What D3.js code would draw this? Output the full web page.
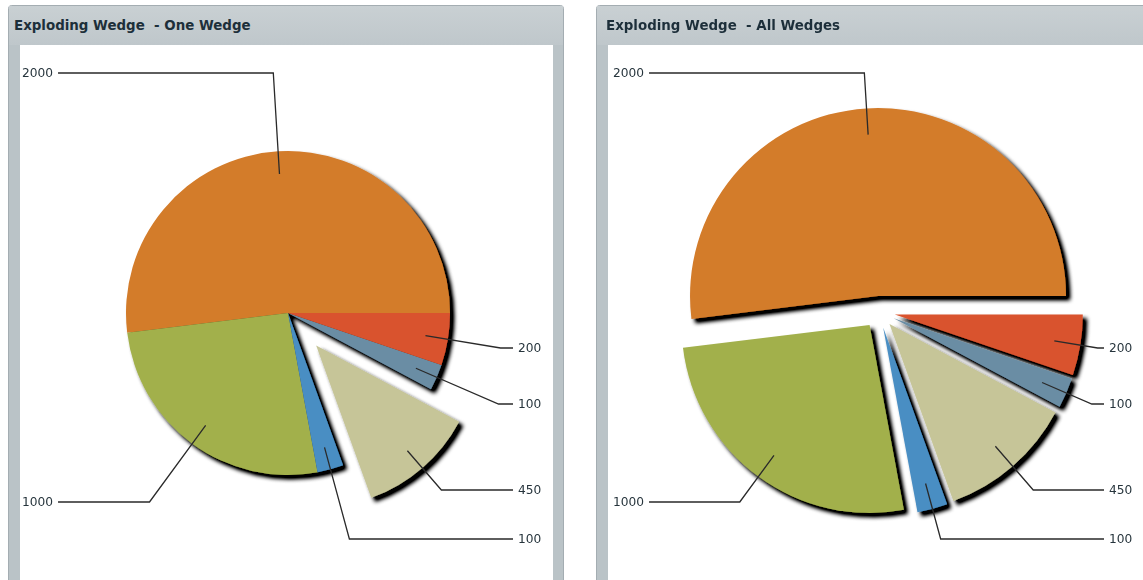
<!DOCTYPE html>
<html>
<head>
<meta charset="utf-8">
<script src="https://cdn.jsdelivr.net/npm/d3@7/dist/d3.min.js"></script>
<style>
    body {margin: 0; background: #fff;}
    .panel-frame {fill: #bac3c7; stroke: #a4adb2; stroke-width: 1;}
    .panel-body {fill: #fff;}
    .panel-title {font-family: "DejaVu Sans", Verdana, sans-serif; font-weight: bold; font-size: 13.4px; fill: #1d2f3a; white-space: pre;}
    .pie-label {font-family: "DejaVu Sans", Verdana, sans-serif; font-size: 12.2px; fill: #26343c;}
    .leader {fill: none; stroke: #2a2a2a; stroke-width: 1.3;}
</style>
</head>
<body>
<svg id="chart" width="1143" height="580"></svg>
<script>
    // data, in drawing order (counter-clockwise from 3 o'clock)
    let values = [2000, 1000, 100, 450, 100, 200];
    let labels = ["2000", "1000", "100", "450", "100", "200"];
    let colors = ["#d37b2a", "#a2b04c", "#4a8ec3", "#c6c598", "#6a8da4", "#d9532e"];
    let titles = ["Exploding Wedge  - One Wedge", "Exploding Wedge  - All Wedges"];
    let explodeOne = [0, 0, 0, 43, 0, 0];
    let explodeAll = [16, 16, 16, 16, 16, 16];

    // layout
    let labelRows = [73, 502, 539, 490, 404, 348];
    let panels = [
        {x: 8, w: 555, titleX: 14, cx: 288, cy: 313, r: 162, explode: explodeOne, leftX: 22, rightX: 518},
        {x: 596, w: 560, titleX: 606, cx: 879, cy: 312, r: 188, explode: explodeAll, leftX: 613, rightX: 1109}
    ];

    let svg = d3.select("#chart");

    let defs = svg.append("defs");
    let grad = defs.append("linearGradient")
        .attr("id", "head-grad")
        .attr("x1", 0).attr("y1", 0).attr("x2", 0).attr("y2", 1);
    grad.append("stop").attr("offset", "0%").attr("stop-color", "#c9d0d3");
    grad.append("stop").attr("offset", "100%").attr("stop-color", "#bfc7cb");

    let filter = defs.append("filter")
        .attr("id", "shadow")
        .attr("x", "-20%").attr("y", "-20%")
        .attr("width", "140%").attr("height", "140%");
    filter.append("feGaussianBlur")
        .attr("in", "SourceAlpha")
        .attr("stdDeviation", 2.2)
        .attr("result", "blur");
    filter.append("feOffset")
        .attr("in", "blur")
        .attr("dx", 4).attr("dy", 4)
        .attr("result", "off");
    filter.append("feComponentTransfer")
        .attr("in", "off")
        .attr("result", "dark")
        .append("feFuncA").attr("type", "linear").attr("slope", 1.4);
    let merge = filter.append("feMerge");
    merge.append("feMergeNode").attr("in", "dark");
    merge.append("feMergeNode").attr("in", "SourceGraphic");

    let pie = d3.pie()
        .sort(null)
        .value(function(d) { return d; })
        .startAngle(Math.PI / 2)
        .endAngle(Math.PI / 2 - 2 * Math.PI);

    panels.forEach(function(p, pi) {
        let g = svg.append("g");

        // frame + header
        g.append("rect")
            .attr("class", "panel-frame")
            .attr("x", p.x + 0.5).attr("y", 5.5)
            .attr("width", p.w).attr("height", 600)
            .attr("rx", 3);
        g.append("rect")
            .attr("x", p.x + 1).attr("y", 6)
            .attr("width", p.w - 1).attr("height", 39)
            .attr("fill", "url(#head-grad)");
        g.append("rect")
            .attr("class", "panel-body")
            .attr("x", p.x + 12).attr("y", 45)
            .attr("width", p.w - 22).attr("height", 560);
        g.append("text")
            .attr("class", "panel-title")
            .attr("x", p.titleX).attr("y", 30)
            .text(titles[pi]);

        let arc = d3.arc().innerRadius(0).outerRadius(p.r);
        let arcs = pie(values);

        arcs.forEach(function(a, i) {
            let mid = (a.startAngle + a.endAngle) / 2;
            a.dx = Math.sin(mid);
            a.dy = -Math.cos(mid);
            a.wx = p.cx + a.dx * p.explode[i];
            a.wy = p.cy + a.dy * p.explode[i];
        });

        g.append("g")
            .attr("filter", "url(#shadow)")
            .selectAll("path")
            .data(arcs)
            .enter().append("path")
            .attr("transform", function(d) { return "translate(" + d.wx + "," + d.wy + ")"; })
            .attr("d", arc)
            .style("fill", function(d, i) { return colors[i]; });

        // labels + leader lines
        arcs.forEach(function(a, i) {
            let ly = labelRows[i];
            let left = a.dx < 0;
            let txt = g.append("text")
                .attr("class", "pie-label")
                .attr("x", left ? p.leftX : p.rightX)
                .attr("y", ly)
                .attr("dy", "0.36em")
                .text(labels[i]);
            let tw = txt.node().getComputedTextLength();
            let innerX = a.wx + a.dx * p.r * 0.86;
            let innerY = a.wy + a.dy * p.r * 0.86;
            let t = (ly - a.wy) / a.dy;
            let elbowX = a.wx + a.dx * t;
            let endX = left ? p.leftX + tw + 5 : p.rightX - 5;
            g.append("path")
                .attr("class", "leader")
                .attr("d", d3.line()([[innerX, innerY], [elbowX, ly], [endX, ly]]));
        });
    });
</script>
</body>
</html>
